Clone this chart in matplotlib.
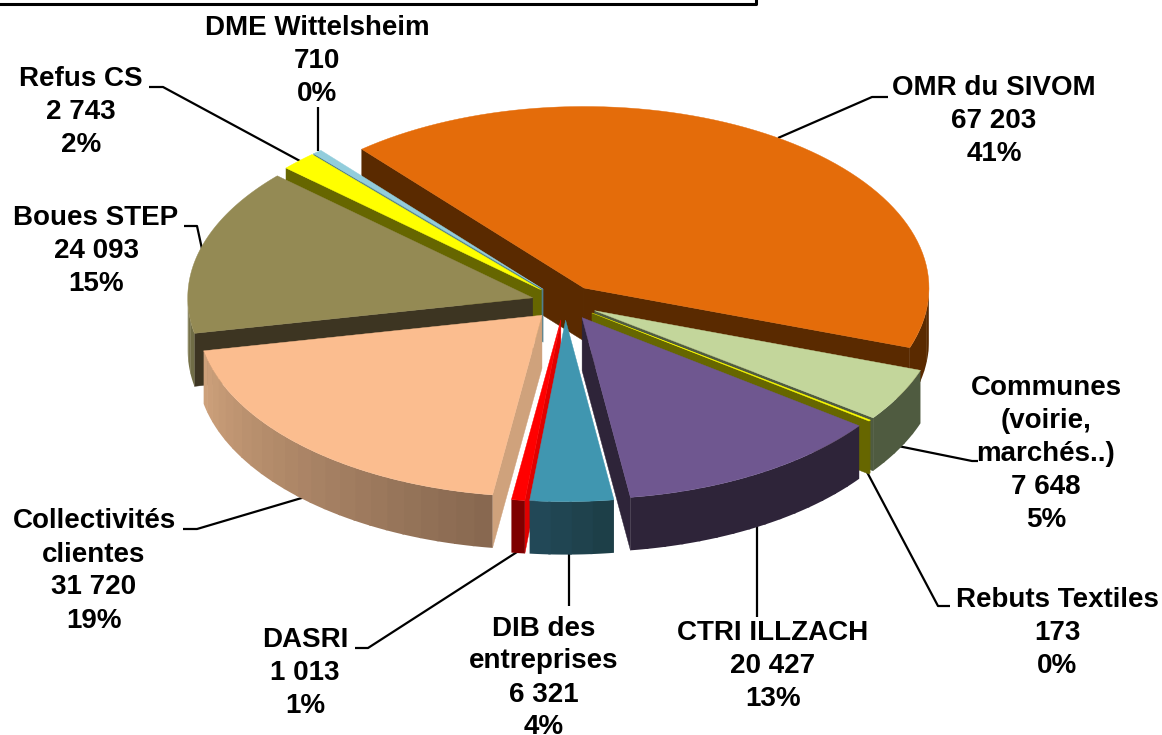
import numpy as np
import matplotlib
matplotlib.use("Agg")
import matplotlib.pyplot as plt
from matplotlib.patches import Polygon
from matplotlib.colors import to_rgb

names = ["OMR du SIVOM", "Communes\n(voirie,\nmarchés..)", "Rebuts Textiles", "CTRI ILLZACH",
         "DIB des\nentreprises", "DASRI", "Collectivités\nclientes", "Boues STEP", "Refus CS", "DME Wittelsheim"]
values = [67203, 7648, 173, 20427, 6321, 1013, 31720, 24093, 2743, 710]
value_labels = ["67 203", "7 648", "173", "20 427", "6 321", "1 013", "31 720", "24 093", "2 743", "710"]
pct_labels = ["41%", "5%", "0%", "13%", "4%", "1%", "19%", "15%", "2%", "0%"]

top_colors = ["#E46C0A", "#C3D69B", "#FFFF00", "#6F5790", "#4096B0", "#FF0000", "#FBBD8F", "#948A54", "#FFFF00", "#92CDDC"]
wall_colors = ["#5A2A00", "#4F5B40", "#666600", "#2E2439", "#1F4655", "#E00000", "#CFA27C", "#3D3522", "#666600", "#4F7F8F"]
rim_left = ["#5A2A00", "#4F5B40", "#666600", "#2E2439", "#234A5A", "#7F0000", "#CFA27C", "#7F7A4D", "#666600", "#4F7F8F"]
rim_right = ["#5A2A00", "#4F5B40", "#666600", "#2E2439", "#1C3D45", "#7F0000", "#86674F", "#6D6A44", "#666600", "#4F7F8F"]

# pie geometry in picture pixels
cx, cy = 565, 302.5
rx, ry = 345, 181.5
depth = 53
explode = 0.097
start = -40.1

# label centres and leader lines, same order as names
label_pos = [(994, 121), (1046, 454), (1057, 633), (773, 666), (544, 678),
             (305, 673), (94, 571), (96, 251), (81, 112), (317, 61)]
leaders = [[(778, 138), (872, 97), (888, 97)],
           [(898, 446), (972, 461), (978, 461)],
           [(867, 472), (938, 606), (950, 606)],
           [(757, 525), (757, 617)],
           [(569, 553), (569, 606)],
           [(517, 552), (368, 648), (355, 648)],
           [(305, 497), (197, 529), (183, 529)],
           [(202, 249), (197, 226), (184, 226)],
           [(300, 161), (163, 87), (149, 87)],
           [(318, 151), (318, 107)]]


def rim_pt(ax0, ay0, deg):
    t = np.radians(deg)
    return ax0 + rx * np.sin(t), ay0 - ry * np.cos(t)


def mix(c1, c2, f):
    a, b = np.array(to_rgb(c1)), np.array(to_rgb(c2))
    return tuple(a + (b - a) * f)


def draw_wall(ax, apex, deg, other, color, z):
    # only draw the cut face if it looks down towards the viewer
    p = rim_pt(apex[0], apex[1], deg)
    q = rim_pt(apex[0], apex[1], other)
    ex, ey = p[0] - apex[0], p[1] - apex[1]
    nx, ny = -ey, ex
    if nx * (q[0] - apex[0]) + ny * (q[1] - apex[1]) > 0:
        nx, ny = -nx, -ny
    if ny <= 0:
        return
    pts = [apex, p, (p[0], p[1] + depth), (apex[0], apex[1] + depth)]
    ax.add_patch(Polygon(pts, closed=True, fc=color, ec=color, lw=0.3, zorder=z))


def draw_slice(ax, i, a0, a1, z):
    mid = (a0 + a1) / 2
    t = np.radians(mid)
    apex = (cx + rx * explode * np.sin(t), cy - ry * explode * np.cos(t))

    draw_wall(ax, apex, a0, a1, wall_colors[i], z)
    draw_wall(ax, apex, a1, a0, wall_colors[i], z + 0.1)

    # outer rim, in strips so the shading shows
    lo, hi = max(a0, 90), min(a1, 270)
    if hi > lo:
        n = max(int((hi - lo) / 3), 1)
        edges = np.linspace(lo, hi, n + 1)
        for k in range(n):
            # strips overlap a little, otherwise the seams show through
            tt = np.linspace(edges[k], min(edges[k + 1] + 0.4, hi), 6)
            up = [rim_pt(apex[0], apex[1], d) for d in tt]
            down = [(x, y + depth) for x, y in up[::-1]]
            col = mix(rim_right[i], rim_left[i], (k + 0.5) / n)
            ax.add_patch(Polygon(up + down, closed=True, fc=col, ec="none", zorder=z + 0.2))

    tt = np.linspace(a0, a1, 80)
    top = [apex] + [rim_pt(apex[0], apex[1], d) for d in tt]
    ax.add_patch(Polygon(top, closed=True, fc=top_colors[i], ec=top_colors[i], lw=0.3, zorder=z + 0.3))
    return apex


fig = plt.figure(figsize=(11.62, 7.35), dpi=100)
ax = fig.add_axes([0, 0, 1, 1])
ax.set_xlim(0, 1162)
ax.set_ylim(735, 0)
ax.axis("off")

# slice angles come from the values, clockwise from the top
sweep = np.array(values) / sum(values) * 360
ends = start + np.cumsum(sweep)
starts = ends - sweep
mids = np.radians((starts + ends) / 2)
apex_y = cy - ry * explode * np.cos(mids)

# back slices first
for z, i in enumerate(np.argsort(apex_y)):
    draw_slice(ax, i, starts[i], ends[i], 2 + z)

for pts in leaders:
    xs, ys = zip(*pts)
    ax.plot(xs, ys, color="black", lw=1.6, zorder=1, solid_capstyle="butt")

for i in range(len(names)):
    txt = names[i] + "\n" + value_labels[i] + "\n" + pct_labels[i]
    ax.text(label_pos[i][0], label_pos[i][1], txt, ha="center", va="center", multialignment="center",
            family="Liberation Sans", fontweight="bold", fontsize=20, linespacing=1.35, color="black", zorder=30)

# bit of the title box left at the top
ax.plot([0, 756, 756], [3.5, 3.5, 0], color="black", lw=2.2, zorder=1)

fig.savefig("out.png", dpi=100)
